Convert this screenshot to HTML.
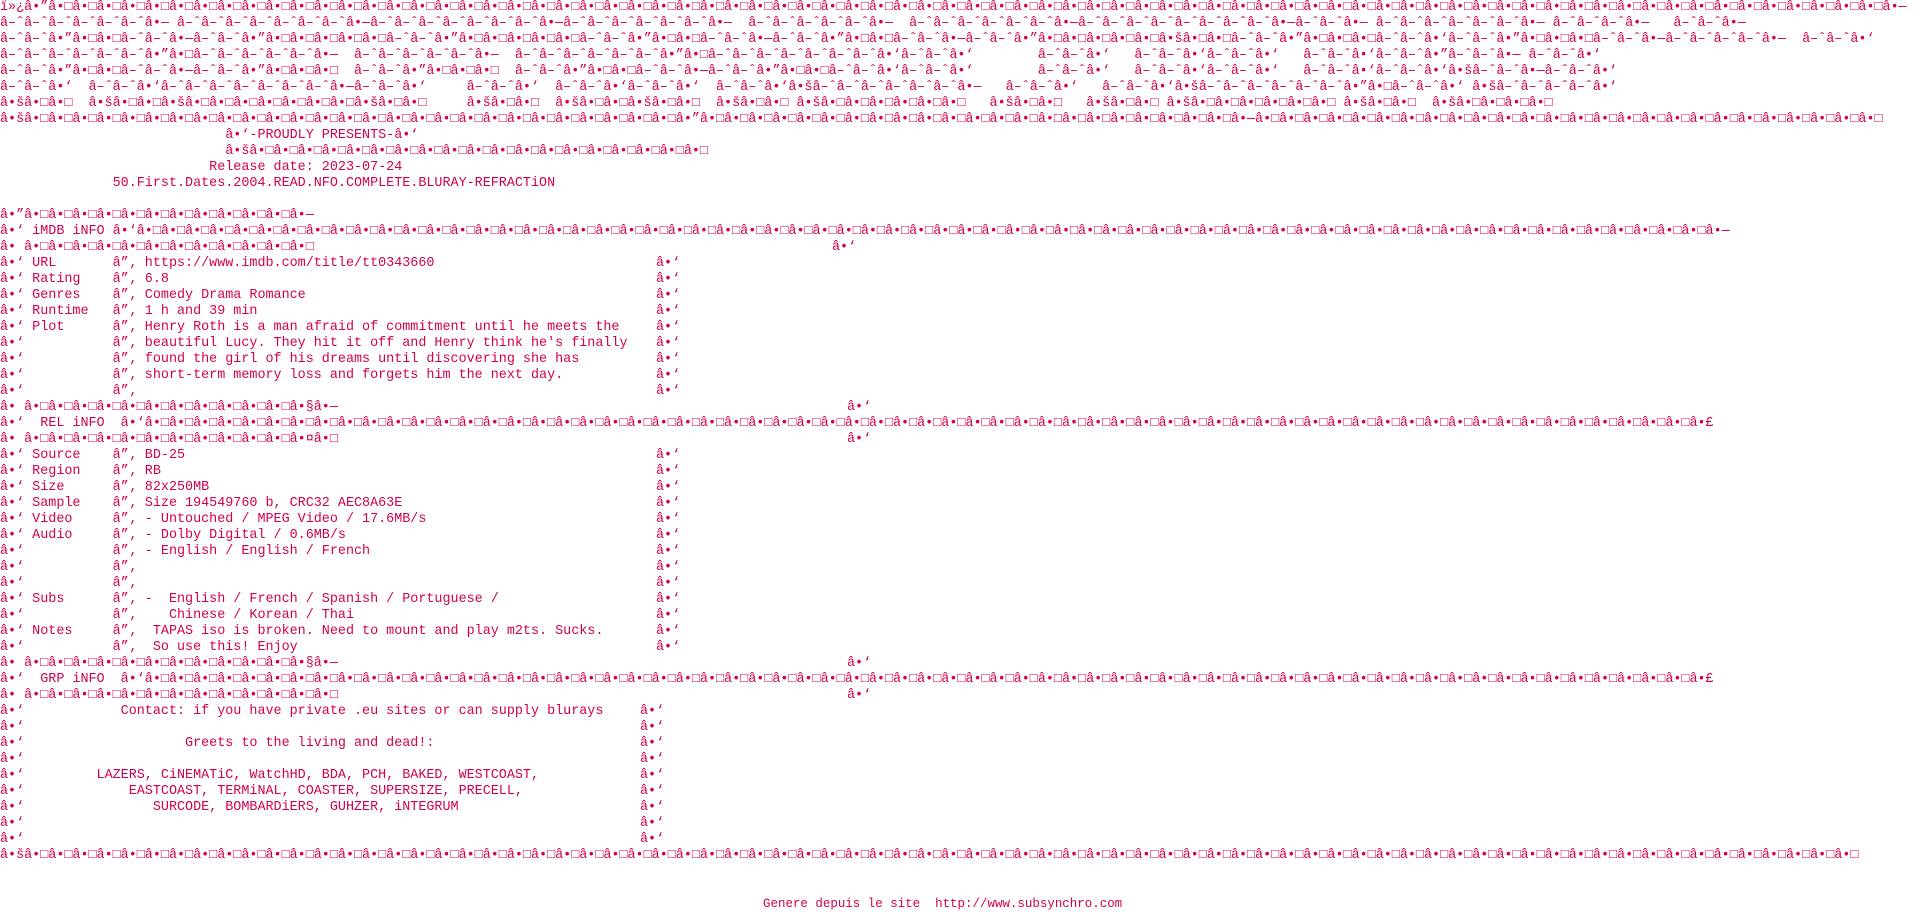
<!DOCTYPE html>
<html><head><meta charset="utf-8">
<style>
html,body{margin:0;padding:0;background:#fff}
body{width:1920px;height:912px;overflow:hidden;position:relative;color:#d10050;font-family:"Liberation Mono","DejaVu Sans Mono",monospace;font-size:13.42px;line-height:16px}
.l{position:relative;height:16px;white-space:pre}
.l b{position:absolute;top:0;font-weight:normal}
.f{position:absolute;left:763px;top:896px;font-size:12.47px;line-height:16px;white-space:pre}
</style></head><body>
<div class="l">ï»¿â•”â•□â•□â•□â•□â•□â•□â•□â•□â•□â•□â•□â•□â•□â•□â•□â•□â•□â•□â•□â•□â•□â•□â•□â•□â•□â•□â•□â•□â•□â•□â•□â•□â•□â•□â•□â•□â•□â•□â•□â•□â•□â•□â•□â•□â•□â•□â•□â•□â•□â•□â•□â•□â•□â•□â•□â•□â•□â•□â•□â•□â•□â•□â•□â•□â•□â•□â•□â•□â•□â•□â•□â•□â•□â•□â•□â•□â•—</div>
<div class="l">â–ˆâ–ˆâ–ˆâ–ˆâ–ˆâ–ˆâ•— â–ˆâ–ˆâ–ˆâ–ˆâ–ˆâ–ˆâ–ˆâ•—â–ˆâ–ˆâ–ˆâ–ˆâ–ˆâ–ˆâ–ˆâ•—â–ˆâ–ˆâ–ˆâ–ˆâ–ˆâ–ˆâ•—  â–ˆâ–ˆâ–ˆâ–ˆâ–ˆâ•—  â–ˆâ–ˆâ–ˆâ–ˆâ–ˆâ–ˆâ•—â–ˆâ–ˆâ–ˆâ–ˆâ–ˆâ–ˆâ–ˆâ–ˆâ•—â–ˆâ–ˆâ•— â–ˆâ–ˆâ–ˆâ–ˆâ–ˆâ–ˆâ•— â–ˆâ–ˆâ–ˆâ•—   â–ˆâ–ˆâ•—</div>
<div class="l">â–ˆâ–ˆâ•”â•□â•□â–ˆâ–ˆâ•—â–ˆâ–ˆâ•”â•□â•□â•□â•□â•□â–ˆâ–ˆâ•”â•□â•□â•□â•□â•□â–ˆâ–ˆâ•”â•□â•□â–ˆâ–ˆâ•—â–ˆâ–ˆâ•”â•□â•□â–ˆâ–ˆâ•—â–ˆâ–ˆâ•”â•□â•□â•□â•□â•□â•šâ•□â•□â–ˆâ–ˆâ•”â•□â•□â•□â–ˆâ–ˆâ•‘â–ˆâ–ˆâ•”â•□â•□â•□â–ˆâ–ˆâ•—â–ˆâ–ˆâ–ˆâ–ˆâ•—  â–ˆâ–ˆâ•‘</div>
<div class="l">â–ˆâ–ˆâ–ˆâ–ˆâ–ˆâ–ˆâ•”â•□â–ˆâ–ˆâ–ˆâ–ˆâ–ˆâ•—  â–ˆâ–ˆâ–ˆâ–ˆâ–ˆâ•—  â–ˆâ–ˆâ–ˆâ–ˆâ–ˆâ–ˆâ•”â•□â–ˆâ–ˆâ–ˆâ–ˆâ–ˆâ–ˆâ–ˆâ•‘â–ˆâ–ˆâ•‘        â–ˆâ–ˆâ•‘   â–ˆâ–ˆâ•‘â–ˆâ–ˆâ•‘   â–ˆâ–ˆâ•‘â–ˆâ–ˆâ•”â–ˆâ–ˆâ•— â–ˆâ–ˆâ•‘</div>
<div class="l">â–ˆâ–ˆâ•”â•□â•□â–ˆâ–ˆâ•—â–ˆâ–ˆâ•”â•□â•□â•□  â–ˆâ–ˆâ•”â•□â•□â•□  â–ˆâ–ˆâ•”â•□â•□â–ˆâ–ˆâ•—â–ˆâ–ˆâ•”â•□â•□â–ˆâ–ˆâ•‘â–ˆâ–ˆâ•‘        â–ˆâ–ˆâ•‘   â–ˆâ–ˆâ•‘â–ˆâ–ˆâ•‘   â–ˆâ–ˆâ•‘â–ˆâ–ˆâ•‘â•šâ–ˆâ–ˆâ•—â–ˆâ–ˆâ•‘</div>
<div class="l">â–ˆâ–ˆâ•‘  â–ˆâ–ˆâ•‘â–ˆâ–ˆâ–ˆâ–ˆâ–ˆâ–ˆâ–ˆâ•—â–ˆâ–ˆâ•‘     â–ˆâ–ˆâ•‘  â–ˆâ–ˆâ•‘â–ˆâ–ˆâ•‘  â–ˆâ–ˆâ•‘â•šâ–ˆâ–ˆâ–ˆâ–ˆâ–ˆâ–ˆâ•—   â–ˆâ–ˆâ•‘   â–ˆâ–ˆâ•‘â•šâ–ˆâ–ˆâ–ˆâ–ˆâ–ˆâ–ˆâ•”â•□â–ˆâ–ˆâ•‘ â•šâ–ˆâ–ˆâ–ˆâ–ˆâ•‘</div>
<div class="l">â•šâ•□â•□  â•šâ•□â•□â•šâ•□â•□â•□â•□â•□â•□â•□â•šâ•□â•□     â•šâ•□â•□  â•šâ•□â•□â•šâ•□â•□  â•šâ•□â•□ â•šâ•□â•□â•□â•□â•□â•□   â•šâ•□â•□   â•šâ•□â•□ â•šâ•□â•□â•□â•□â•□â•□ â•šâ•□â•□  â•šâ•□â•□â•□â•□</div>
<div class="l">â•šâ•□â•□â•□â•□â•□â•□â•□â•□â•□â•□â•□â•□â•□â•□â•□â•□â•□â•□â•□â•□â•□â•□â•□â•□â•□â•□â•□â•”â•□â•□â•□â•□â•□â•□â•□â•□â•□â•□â•□â•□â•□â•□â•□â•□â•□â•□â•□â•□â•□â•□â•—â•□â•□â•□â•□â•□â•□â•□â•□â•□â•□â•□â•□â•□â•□â•□â•□â•□â•□â•□â•□â•□â•□â•□â•□â•□â•□</div>
<div class="l">                            â•‘-PROUDLY PRESENTS-â•‘</div>
<div class="l">                            â•šâ•□â•□â•□â•□â•□â•□â•□â•□â•□â•□â•□â•□â•□â•□â•□â•□â•□â•□â•□</div>
<div class="l">                          Release date: 2023-07-24</div>
<div class="l">              50.First.Dates.2004.READ.NFO.COMPLETE.BLURAY-REFRACTiON</div>
<div class="l"></div>
<div class="l">â•”â•□â•□â•□â•□â•□â•□â•□â•□â•□â•□â•□â•—</div>
<div class="l">â•‘ iMDB iNFO â•‘â•□â•□â•□â•□â•□â•□â•□â•□â•□â•□â•□â•□â•□â•□â•□â•□â•□â•□â•□â•□â•□â•□â•□â•□â•□â•□â•□â•□â•□â•□â•□â•□â•□â•□â•□â•□â•□â•□â•□â•□â•□â•□â•□â•□â•□â•□â•□â•□â•□â•□â•□â•□â•□â•□â•□â•□â•□â•□â•□â•□â•□â•□â•□â•□â•□â•—</div>
<div class="l">â•&nbsp;â•□â•□â•□â•□â•□â•□â•□â•□â•□â•□â•□â•□<b style="left:832px">â•‘</b></div>
<div class="l">â•‘ URL       â”‚ https://www.imdb.com/title/tt0343660<b style="left:656px">â•‘</b></div>
<div class="l">â•‘ Rating    â”‚ 6.8<b style="left:656px">â•‘</b></div>
<div class="l">â•‘ Genres    â”‚ Comedy Drama Romance<b style="left:656px">â•‘</b></div>
<div class="l">â•‘ Runtime   â”‚ 1 h and 39 min<b style="left:656px">â•‘</b></div>
<div class="l">â•‘ Plot      â”‚ Henry Roth is a man afraid of commitment until he meets the<b style="left:656px">â•‘</b></div>
<div class="l">â•‘           â”‚ beautiful Lucy. They hit it off and Henry think he's finally<b style="left:656px">â•‘</b></div>
<div class="l">â•‘           â”‚ found the girl of his dreams until discovering she has<b style="left:656px">â•‘</b></div>
<div class="l">â•‘           â”‚ short-term memory loss and forgets him the next day.<b style="left:656px">â•‘</b></div>
<div class="l">â•‘           â”‚<b style="left:656px">â•‘</b></div>
<div class="l">â•&nbsp;â•□â•□â•□â•□â•□â•□â•□â•□â•□â•□â•□â•§â•—<b style="left:847px">â•‘</b></div>
<div class="l">â•‘  REL iNFO  â•‘â•□â•□â•□â•□â•□â•□â•□â•□â•□â•□â•□â•□â•□â•□â•□â•□â•□â•□â•□â•□â•□â•□â•□â•□â•□â•□â•□â•□â•□â•□â•□â•□â•□â•□â•□â•□â•□â•□â•□â•□â•□â•□â•□â•□â•□â•□â•□â•□â•□â•□â•□â•□â•□â•□â•□â•□â•□â•□â•□â•□â•□â•□â•□â•□â•£</div>
<div class="l">â•&nbsp;â•□â•□â•□â•□â•□â•□â•□â•□â•□â•□â•□â•¤â•□<b style="left:847px">â•‘</b></div>
<div class="l">â•‘ Source    â”‚ BD-25<b style="left:656px">â•‘</b></div>
<div class="l">â•‘ Region    â”‚ RB<b style="left:656px">â•‘</b></div>
<div class="l">â•‘ Size      â”‚ 82x250MB<b style="left:656px">â•‘</b></div>
<div class="l">â•‘ Sample    â”‚ Size 194549760 b, CRC32 AEC8A63E<b style="left:656px">â•‘</b></div>
<div class="l">â•‘ Video     â”‚ - Untouched / MPEG Video / 17.6MB/s<b style="left:656px">â•‘</b></div>
<div class="l">â•‘ Audio     â”‚ - Dolby Digital / 0.6MB/s<b style="left:656px">â•‘</b></div>
<div class="l">â•‘           â”‚ - English / English / French<b style="left:656px">â•‘</b></div>
<div class="l">â•‘           â”‚<b style="left:656px">â•‘</b></div>
<div class="l">â•‘           â”‚<b style="left:656px">â•‘</b></div>
<div class="l">â•‘ Subs      â”‚ -  English / French / Spanish / Portuguese /<b style="left:656px">â•‘</b></div>
<div class="l">â•‘           â”‚    Chinese / Korean / Thai<b style="left:656px">â•‘</b></div>
<div class="l">â•‘ Notes     â”‚  TAPAS iso is broken. Need to mount and play m2ts. Sucks.<b style="left:656px">â•‘</b></div>
<div class="l">â•‘           â”‚  So use this! Enjoy<b style="left:656px">â•‘</b></div>
<div class="l">â•&nbsp;â•□â•□â•□â•□â•□â•□â•□â•□â•□â•□â•□â•§â•—<b style="left:847px">â•‘</b></div>
<div class="l">â•‘  GRP iNFO  â•‘â•□â•□â•□â•□â•□â•□â•□â•□â•□â•□â•□â•□â•□â•□â•□â•□â•□â•□â•□â•□â•□â•□â•□â•□â•□â•□â•□â•□â•□â•□â•□â•□â•□â•□â•□â•□â•□â•□â•□â•□â•□â•□â•□â•□â•□â•□â•□â•□â•□â•□â•□â•□â•□â•□â•□â•□â•□â•□â•□â•□â•□â•□â•□â•□â•£</div>
<div class="l">â•&nbsp;â•□â•□â•□â•□â•□â•□â•□â•□â•□â•□â•□â•□â•□<b style="left:847px">â•‘</b></div>
<div class="l">â•‘            Contact: if you have private .eu sites or can supply blurays<b style="left:640px">â•‘</b></div>
<div class="l">â•‘<b style="left:640px">â•‘</b></div>
<div class="l">â•‘                    Greets to the living and dead!:<b style="left:640px">â•‘</b></div>
<div class="l">â•‘<b style="left:640px">â•‘</b></div>
<div class="l">â•‘         LAZERS, CiNEMATiC, WatchHD, BDA, PCH, BAKED, WESTCOAST,<b style="left:640px">â•‘</b></div>
<div class="l">â•‘             EASTCOAST, TERMiNAL, COASTER, SUPERSIZE, PRECELL,<b style="left:640px">â•‘</b></div>
<div class="l">â•‘                SURCODE, BOMBARDiERS, GUHZER, iNTEGRUM<b style="left:640px">â•‘</b></div>
<div class="l">â•‘<b style="left:640px">â•‘</b></div>
<div class="l">â•‘<b style="left:640px">â•‘</b></div>
<div class="l">â•šâ•□â•□â•□â•□â•□â•□â•□â•□â•□â•□â•□â•□â•□â•□â•□â•□â•□â•□â•□â•□â•□â•□â•□â•□â•□â•□â•□â•□â•□â•□â•□â•□â•□â•□â•□â•□â•□â•□â•□â•□â•□â•□â•□â•□â•□â•□â•□â•□â•□â•□â•□â•□â•□â•□â•□â•□â•□â•□â•□â•□â•□â•□â•□â•□â•□â•□â•□â•□â•□â•□â•□â•□â•□â•□â•□â•□</div>
<div class="f">Genere depuis le site  http://www.subsynchro.com</div>
</body></html>
